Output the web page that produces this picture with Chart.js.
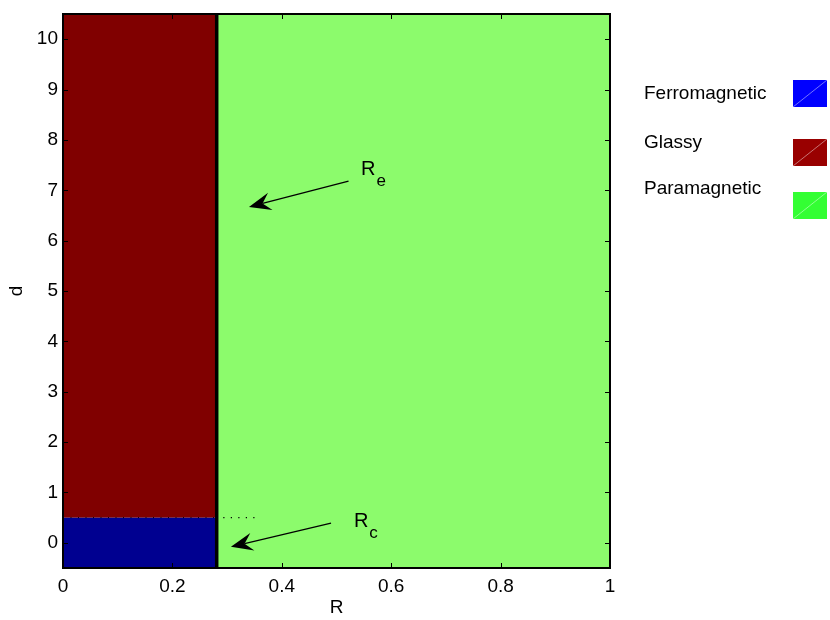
<!DOCTYPE html>
<html>
<head>
<meta charset="utf-8">
<script src="https://cdn.jsdelivr.net/npm/chart.js@4.4.1/dist/chart.umd.min.js"></script>
<style>
  html, body { margin: 0; padding: 0; background: #fff; }
  #wrap { width: 830px; height: 620px; }
</style>
</head>
<body>
<div id="wrap"><canvas id="phaseChart" width="830" height="620"></canvas></div>
<script>
// Axis ranges and ticks
var rRange = [0, 1];
var dRange = [-0.5, 10.5];
var rTicks = [0, 0.2, 0.4, 0.6, 0.8, 1];
var dTicks = [0, 1, 2, 3, 4, 5, 6, 7, 8, 9, 10];

// Phase boundaries (R_e is the vertical line, d boundary between ferro and glassy)
var boundaryR = 0.281;
var boundaryD = 0.5;
// Short dotted extension of the d boundary past R_e
var dottedR = [0.293, 0.36];

// Phases: names and colours
var phaseNames = ['Ferromagnetic', 'Glassy', 'Paramagnetic'];
var phaseFill = ['#000090', '#800000', '#8cfb6c'];
var legendColors = ['#0000ff', '#990000', '#33ff33'];

// Annotations: label, subscript, arrow tail, arrow head, label centre (data units)
var annotText = ['R', 'R'];
var annotSub = ['e', 'c'];
var arrowFrom = [[0.522, 7.18], [0.49, 0.39]];
var arrowTo = [[0.34, 6.67], [0.307, -0.08]];
var annotAt = [[0.558, 7.42], [0.545, 0.43]];

var FONT = '"Liberation Sans", Arial, sans-serif';

// Builds a horizontal edge that is filled down to a given value
function region(name, x0, x1, top, bottom, color) {
    return {
        label: name,
        data: [{x: x0, y: top}, {x: x1, y: top}],
        showLine: true,
        borderWidth: 0,
        borderColor: color,
        backgroundColor: color,
        pointRadius: 0,
        fill: {value: bottom}
    };
}

// First dataset is drawn on top
var datasets = [
    {
        label: 'R_e',
        data: [{x: boundaryR, y: dRange[0]}, {x: boundaryR, y: dRange[1]}],
        showLine: true, borderColor: '#000', borderWidth: 3.5, pointRadius: 0, fill: false
    },
    {
        label: 'dotted',
        data: [{x: rRange[0], y: boundaryD}, {x: boundaryR, y: boundaryD}],
        showLine: true, borderColor: '#000', borderWidth: 1, borderDash: [1, 6.5], pointRadius: 0, fill: false
    },
    {
        label: 'dotted2',
        data: [{x: dottedR[0], y: boundaryD}, {x: dottedR[1], y: boundaryD}],
        showLine: true, borderColor: '#000', borderWidth: 1.2, borderDash: [1.2, 6.3], pointRadius: 0, fill: false
    },
    region(phaseNames[0], rRange[0], boundaryR, boundaryD, dRange[0], phaseFill[0]),
    region(phaseNames[1], rRange[0], boundaryR, dRange[1], boundaryD, phaseFill[1]),
    region(phaseNames[2], boundaryR, rRange[1], dRange[1], dRange[0], phaseFill[2])
];

// Box, inward ticks, arrows, annotations and legend
var decorPlugin = {
    id: 'decor',
    afterDatasetsDraw: function(chart) {
        var ctx = chart.ctx;
        var a = chart.chartArea;
        var xs = chart.scales.x, ys = chart.scales.y;
        ctx.save();

        // inward tick marks on all four sides
        ctx.strokeStyle = '#000';
        ctx.lineWidth = 1;
        var tl = 5;
        rTicks.forEach(function(v) {
            var px = Math.round(xs.getPixelForValue(v)) + 0.5;
            ctx.beginPath();
            ctx.moveTo(px, a.bottom); ctx.lineTo(px, a.bottom - tl);
            ctx.moveTo(px, a.top); ctx.lineTo(px, a.top + tl);
            ctx.stroke();
        });
        dTicks.forEach(function(v) {
            var py = Math.round(ys.getPixelForValue(v)) + 0.5;
            ctx.beginPath();
            ctx.moveTo(a.left, py); ctx.lineTo(a.left + tl, py);
            ctx.moveTo(a.right, py); ctx.lineTo(a.right - tl, py);
            ctx.stroke();
        });

        // box
        ctx.lineWidth = 2;
        ctx.strokeRect(a.left, a.top, a.right - a.left, a.bottom - a.top);

        // arrows
        for (var i = 0; i < arrowFrom.length; i++) {
            var x0 = xs.getPixelForValue(arrowFrom[i][0]), y0 = ys.getPixelForValue(arrowFrom[i][1]);
            var x1 = xs.getPixelForValue(arrowTo[i][0]), y1 = ys.getPixelForValue(arrowTo[i][1]);
            var ang = Math.atan2(y1 - y0, x1 - x0);
            var len = 22, half = 9, notch = 14;
            ctx.lineWidth = 1.3;
            ctx.beginPath();
            ctx.moveTo(x0, y0);
            ctx.lineTo(x1 - notch * Math.cos(ang), y1 - notch * Math.sin(ang));
            ctx.stroke();
            var bx = x1 - len * Math.cos(ang), by = y1 - len * Math.sin(ang);
            var nx = -Math.sin(ang), ny = Math.cos(ang);
            ctx.fillStyle = '#000';
            ctx.beginPath();
            ctx.moveTo(x1, y1);
            ctx.lineTo(bx + half * nx, by + half * ny);
            ctx.lineTo(x1 - notch * Math.cos(ang), y1 - notch * Math.sin(ang));
            ctx.lineTo(bx - half * nx, by - half * ny);
            ctx.closePath();
            ctx.fill();

            // label with subscript
            var tx = xs.getPixelForValue(annotAt[i][0]), ty = ys.getPixelForValue(annotAt[i][1]);
            ctx.font = '20px ' + FONT;
            ctx.textAlign = 'center';
            ctx.textBaseline = 'middle';
            ctx.fillText(annotText[i], tx, ty);
            var w = ctx.measureText(annotText[i]).width;
            ctx.font = '17px ' + FONT;
            ctx.textAlign = 'left';
            ctx.fillText(annotSub[i], tx + w / 2 + 1, ty + 12);
        }

        // legend on the right
        var textY = [94, 143, 189];
        var boxY = [80, 139, 192];
        ctx.font = '19px ' + FONT;
        ctx.textAlign = 'left';
        ctx.textBaseline = 'middle';
        for (var k = 0; k < phaseNames.length; k++) {
            ctx.fillStyle = '#000';
            ctx.fillText(phaseNames[k], 644, textY[k]);
            ctx.fillStyle = legendColors[k];
            ctx.fillRect(793, boxY[k], 34, 27);
            ctx.strokeStyle = 'rgba(255,255,255,0.45)';
            ctx.lineWidth = 1;
            ctx.beginPath();
            ctx.moveTo(793, boxY[k] + 27);
            ctx.lineTo(827, boxY[k]);
            ctx.stroke();
        }
        ctx.restore();
    }
};

var chart = new Chart(document.getElementById('phaseChart').getContext('2d'), {
    type: 'scatter',
    data: {datasets: datasets},
    options: {
        responsive: false,
        animation: false,
        layout: {padding: {top: 14, right: 220, left: 0, bottom: 0}},
        plugins: {legend: {display: false}, tooltip: {enabled: false}},
        scales: {
            x: {
                type: 'linear',
                min: rRange[0], max: rRange[1],
                grid: {display: false, drawTicks: false},
                border: {display: false},
                afterBuildTicks: function(s) { s.ticks = rTicks.map(function(v) { return {value: v}; }); },
                afterFit: function(s) { s.height = 52; s.paddingLeft = 0; s.paddingRight = 0; },
                ticks: {
                    color: '#000', font: {family: FONT, size: 19}, padding: 7, maxRotation: 0,
                    callback: function(v) { return String(v); }
                },
                title: {display: true, text: 'R', color: '#000', font: {family: FONT, size: 19}, padding: {top: 0, bottom: 1}}
            },
            y: {
                type: 'linear',
                min: dRange[0], max: dRange[1],
                grid: {display: false, drawTicks: false},
                border: {display: false},
                afterBuildTicks: function(s) { s.ticks = dTicks.map(function(v) { return {value: v}; }); },
                afterFit: function(s) { s.width = 63; s.paddingTop = 0; s.paddingBottom = 0; },
                ticks: {
                    color: '#000', font: {family: FONT, size: 19}, padding: 5,
                    callback: function(v) { return String(v); }
                },
                title: {display: true, text: 'd', color: '#000', font: {family: FONT, size: 19}, padding: {top: 5, bottom: 0}}
            }
        }
    },
    plugins: [decorPlugin]
});
</script>
</body>
</html>
